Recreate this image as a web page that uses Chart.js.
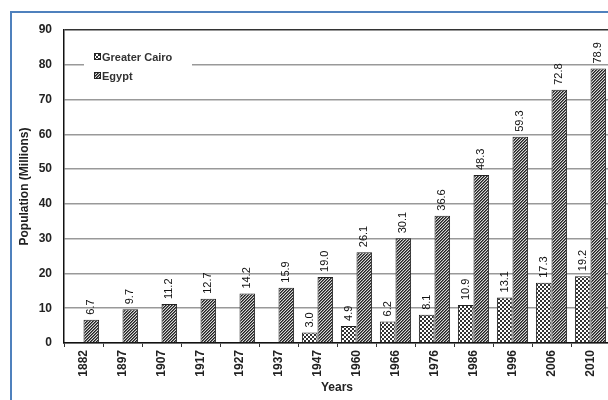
<!DOCTYPE html>
<html>
<head>
<meta charset="utf-8">
<script src="https://cdn.jsdelivr.net/npm/chart.js@4"></script>
<style>
html,body{margin:0;padding:0;background:#fff;overflow:hidden;width:608px;height:400px;}
#wrap{width:608px;height:400px;overflow:hidden;position:relative;}
canvas{display:block;}
</style>
</head>
<body>
<div id="wrap"><canvas id="c" width="610" height="400"></canvas></div>
<script>
const years = ['1882','1897','1907','1917','1927','1937','1947','1960','1966','1976','1986','1996','2006','2010'];
const cairo = [null,null,null,null,null,null,3.0,4.9,6.2,8.1,10.9,13.1,17.3,19.2];
const egypt = [6.7,9.7,11.2,12.7,14.2,15.9,19.0,26.1,30.1,36.6,48.3,59.3,72.8,78.9];
const seriesNames = ['Greater Cairo','Egypt'];
const yTicks = [0,10,20,30,40,50,60,70,80,90];

function hatchPattern(){
  const t=document.createElement('canvas'); t.width=3; t.height=3;
  const g=t.getContext('2d');
  g.fillStyle='#d8d8d8'; g.fillRect(0,0,3,3);
  g.fillStyle='#222';
  g.fillRect(2,0,1,1); g.fillRect(1,1,1,1); g.fillRect(0,2,1,1);
  g.fillStyle='#666';
  g.fillRect(0,0,1,1); g.fillRect(2,1,1,1); g.fillRect(1,2,1,1);
  return document.getElementById('c').getContext('2d').createPattern(t,'repeat');
}
function checkPattern(){
  const t=document.createElement('canvas'); t.width=4; t.height=4;
  const g=t.getContext('2d');
  g.fillStyle='#fff'; g.fillRect(0,0,4,4);
  g.fillStyle='#333'; g.fillRect(0,0,2,2); g.fillRect(2,2,2,2);
  return document.getElementById('c').getContext('2d').createPattern(t,'repeat');
}
const pEgypt = hatchPattern();
const pCairo = checkPattern();
const FONT = 'Liberation Sans, Arial, sans-serif';

const framePlugin = {
  id:'frame',
  beforeDraw(chart){
    const c=chart.ctx;
    c.save();
    c.fillStyle='#fff'; c.fillRect(0,0,chart.width,chart.height);
    c.strokeStyle='#4f81bd'; c.lineWidth=2;
    c.beginPath(); c.moveTo(11,400); c.lineTo(11,12); c.lineTo(chart.width,12); c.stroke();
    c.restore();
  }
};
const labelPlugin = {
  id:'vals',
  afterDatasetsDraw(chart){
    const c=chart.ctx;
    c.save();
    c.font='11px '+FONT; c.fillStyle='#111';
    c.textAlign='left'; c.textBaseline='middle';
    chart.data.datasets.forEach((ds,i)=>{
      const meta=chart.getDatasetMeta(i);
      meta.data.forEach((el,j)=>{
        const v=ds.data[j];
        if(v===null||v===undefined) return;
        c.save();
        c.translate(el.x, el.y-5);
        c.rotate(-Math.PI/2);
        c.fillText(v.toFixed(1),0,0);
        c.restore();
      });
    });
    // legend
    c.fillStyle='#fff'; c.fillRect(84,46,108,40);
    const items=[[pCairo,seriesNames[0],57],[pEgypt,seriesNames[1],76]];
    c.font='bold 11px '+FONT; c.textBaseline='middle';
    items.forEach(([p,t,y])=>{
      c.fillStyle=p; c.fillRect(94,y-4,7,7);
      c.strokeStyle='#222'; c.lineWidth=1; c.strokeRect(94.5,y-3.5,6,6);
      c.fillStyle='#333'; c.fillText(t,102,y+0.5);
    });
    c.restore();
  }
};

new Chart(document.getElementById('c'),{
  type:'bar',
  data:{
    labels:years,
    datasets:[
      {label:seriesNames[0],data:cairo,backgroundColor:pCairo,borderColor:'#222',borderWidth:1},
      {label:seriesNames[1],data:egypt,backgroundColor:pEgypt,borderColor:'#222',borderWidth:1}
    ]
  },
  plugins:[framePlugin,labelPlugin],
  options:{
    responsive:false,
    devicePixelRatio:1,
    animation:false,
    categoryPercentage:0.8,
    barPercentage:1.0,
    layout:{padding:{left:0,right:0,top:30,bottom:0}},
    plugins:{legend:{display:false},tooltip:{enabled:false}},
    scales:{
      x:{
        offset:true,
        grid:{display:true,drawOnChartArea:false,offset:true,tickLength:4,color:'#333'},
        border:{color:'#111',width:1.5},
        ticks:{autoSkip:false,minRotation:90,maxRotation:90,padding:3,color:'#222',font:{family:FONT,size:12,weight:'bold'}},
        title:{display:true,text:'Years',color:'#222',font:{family:FONT,size:12,weight:'bold'},padding:{top:0,bottom:5}},
        afterFit(s){s.height=57;}
      },
      y:{
        min:0,max:90,
        afterBuildTicks(s){s.ticks=yTicks.map(v=>({value:v}));},
        grid:{drawTicks:false,color:(ctx)=>ctx.tick&&ctx.tick.value===90?'#333':'#999',lineWidth:1.5},
        border:{color:'#111',width:1.5},
        ticks:{padding:12,color:'#222',font:{family:FONT,size:12,weight:'bold'}},
        title:{display:true,text:'Population (Millions)',color:'#222',font:{family:FONT,size:12,weight:'bold'},padding:{top:17,bottom:0}},
        afterFit(s){s.width=64;}
      }
    }
  }
});
</script>
</body>
</html>
